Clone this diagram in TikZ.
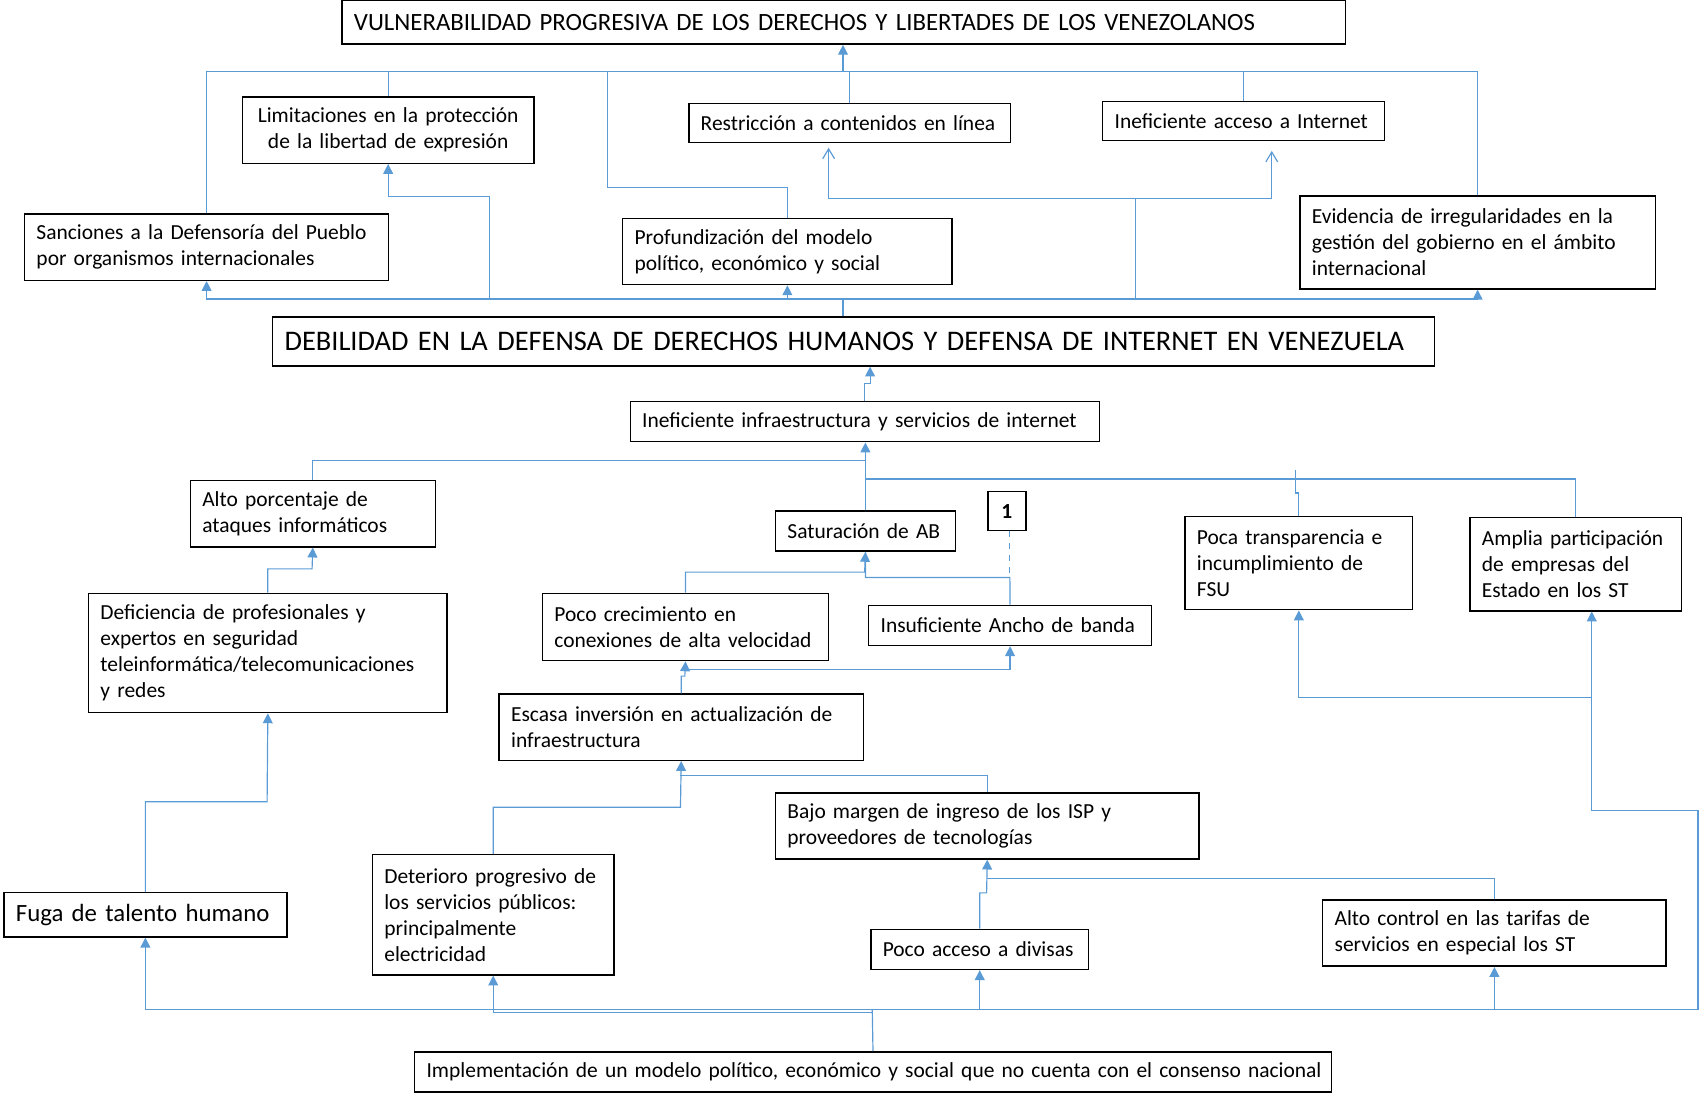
\documentclass[tikz,border=0pt]{standalone}
\usepackage{fontspec}
\setmainfont{Carlito}
\usetikzlibrary{arrows.meta,calc}
\definecolor{lineblue}{RGB}{91,155,213}

\begin{document}
\begin{tikzpicture}[
    x=0.55pt, y=-0.55pt,
    box/.style={draw, line width=0.75pt, anchor=north west, inner xsep=6.05pt, inner ysep=0pt,
      align=left, font=\fontsize{10.9}{13.2}\selectfont},
    bigtext/.style={font=\fontsize{12.6}{15.2}\selectfont},
    hugetext/.style={font=\fontsize{14.4}{17.3}\selectfont},
    link/.style={draw=lineblue, line width=0.6pt},
    arrowed/.style={link, -{Triangle[width=5pt,length=5pt]}},
    openarrowed/.style={link, -{Straight Barb[width=6pt,length=5pt]}}
    ]

    \useasboundingbox (0,0) rectangle (1568,1008);

    % effects
    \node (vuln) [box, bigtext, text width=497.2pt, minimum height=22pt] at (315,0)
      {\mbox{VULNERABILIDAD PROGRESIVA DE LOS DERECHOS Y LIBERTADES DE LOS VENEZOLANOS}};
    \node (limit) [box, align=center, text width=135.9pt, minimum height=33.55pt] at (223,89)
      {Limitaciones en la protección\\de la libertad de expresión};
    \node (restr) [box, text width=151.25pt, minimum height=19.8pt] at (635,95) {\mbox{Restricción a contenidos en línea}};
    \node (acceso) [box, text width=130.9pt, minimum height=19.8pt] at (1017,93) {\mbox{Ineficiente acceso a Internet}};
    \node (sanc) [box, text width=172.7pt, minimum height=33.55pt] at (22,197)
      {Sanciones a la Defensoría del Pueblo\\por organismos internacionales};
    \node (prof) [box, text width=155.1pt, minimum height=33.55pt] at (574,201)
      {Profundización del modelo\\político, económico y social};
    \node (evid) [box, text width=168.3pt, minimum height=47.3pt] at (1199,180)
      {Evidencia de irregularidades en la\\gestión del gobierno en el ámbito\\internacional};

    % central problem
    \node (debil) [box, hugetext, text width=577.5pt, minimum height=24.75pt] at (251,292)
      {\mbox{DEBILIDAD EN LA DEFENSA DE DERECHOS HUMANOS Y DEFENSA DE INTERNET EN VENEZUELA}};

    % causes
    \node (infra) [box, text width=226.05pt, minimum height=20.35pt] at (581,370)
      {\mbox{Ineficiente infraestructura y servicios de internet}};
    \node (ataq) [box, text width=112.2pt, minimum height=33.55pt] at (175,443)
      {Alto porcentaje de\\ataques informáticos};
    \node (satur) [box, text width=79.2pt, minimum height=20.35pt] at (715,471) {\mbox{Saturación de AB}};
    \node (uno) [box, align=center, inner xsep=0pt, minimum width=19.25pt, minimum height=19.8pt,
      font=\fontsize{10.9}{13.2}\selectfont\bfseries] at (911,453) {1};
    \node (transp) [box, text width=103.4pt, minimum height=47.3pt] at (1093,476)
      {Poca transparencia e\\incumplimiento de\\FSU};
    \node (ampl) [box, text width=95.15pt, minimum height=47.3pt] at (1356,477)
      {\mbox{Amplia participación}\\de empresas del\\Estado en los ST};
    \node (defic) [box, text width=169.95pt, minimum height=60.5pt] at (81,547)
      {Deficiencia de profesionales y\\expertos en seguridad\\teleinformática/telecomunicaciones\\y redes};
    \node (crec) [box, text width=133.1pt, minimum height=34.1pt] at (500,547)
      {Poco crecimiento en\\conexiones de alta velocidad};
    \node (ancho) [box, text width=131.45pt, minimum height=20.35pt] at (801,558) {\mbox{Insuficiente Ancho de banda}};
    \node (inver) [box, text width=172.7pt, minimum height=33.55pt] at (460,640)
      {Escasa inversión en actualización de\\infraestructura};
    \node (margen) [box, text width=202.95pt, minimum height=33.55pt] at (715,731)
      {Bajo margen de ingreso de los ISP y\\proveedores de tecnologías};
    \node (fuga) [box, bigtext, text width=131.45pt, minimum height=22.55pt] at (3,823)
      {\mbox{Fuga de talento humano}};
    \node (deter) [box, text width=110.55pt, minimum height=61.05pt] at (343,788)
      {\mbox{Deterioro progresivo de}\\los servicios públicos:\\principalmente\\electricidad};
    \node (divis) [box, text width=98.45pt, minimum height=20.35pt] at (803,857) {\mbox{Poco acceso a divisas}};
    \node (tarif) [box, text width=162.25pt, minimum height=33.55pt] at (1220,830)
      {Alto control en las tarifas de\\servicios en especial los ST};
    \node (impl) [box, text width=453.2pt, minimum height=20.35pt] at (382,970)
      {\mbox{Implementación de un modelo político, económico y social que no cuenta con el consenso nacional}};

    % upper effects into the top box
    \coordinate (topbus) at (778,66);
    \coordinate (profbend) at (561,173);
    \draw[link] (sanc.north) |- (topbus);
    \draw[link] (limit.north) |- (topbus);
    \draw[link] (prof.north) |- (profbend) |- (topbus);
    \draw[link] (restr.north) |- (topbus);
    \draw[link] (acceso.north) |- (topbus);
    \draw[link] (evid.north) |- (topbus);
    \draw[arrowed] (topbus) -- (topbus |- vuln.south);

    % central problem into the effects
    \coordinate (debbus) at (778,276);
    \coordinate (limbend) at (452,181);
    \coordinate (webbend) at (1048,183);
    \draw[link] (debbus |- debil.north) -- (debbus);
    \draw[arrowed] (debbus) -| (sanc.south);
    \draw[arrowed] (debbus) -| (limbend) -| (limit.south);
    \draw[arrowed] (debbus) -| (prof.south);
    \draw[arrowed] (debbus) -| (evid.south);
    \draw[openarrowed] (debbus) -| (webbend) -| ([xshift=-10.7pt,yshift=-2.2pt]restr.south);
    \draw[openarrowed] (webbend) -| ([xshift=14.3pt,yshift=-4.9pt]acceso.south);

    % infrastructure into the central problem
    \coordinate (infrajog) at (803,354);
    \draw[arrowed] (infra.north) |- (infrajog) -- (infrajog |- debil.south);

    % first level causes
    \coordinate (infrabus) at (798,425);
    \coordinate (statebus) at (798,442);
    \coordinate (transpjog) at (1195.6,455);
    \coordinate (transptop) at (1195.6,434);
    \draw[arrowed] (satur.north) -- (satur.north |- infra.south);
    \draw[link] (ataq.north) |- (infrabus);
    \draw[link] (ampl.north) |- (statebus);
    \draw[link] (transp.north) |- (transpjog) -- (transptop);

    % into saturation
    \coordinate (saturbus) at (798,528);
    \coordinate (anchobend) at (932,533);
    \draw[arrowed] (crec.north) |- (saturbus) -- (satur.south);
    \draw[link] (ancho.north) -- (anchobend) -| (satur.south);
    \draw[link, dashed] (uno.south -| anchobend) -- (anchobend);

    % investment
    \coordinate (inverjog) at (632,624);
    \coordinate (inverbus) at (632,617.5);
    \draw[arrowed] (inver.north) |- (inverjog) -- (crec.south);
    \draw[arrowed] (inverbus) -| (ancho.south);

    \coordinate (deterbend) at (628,745);
    \coordinate (margenbend) at (628,716);
    \draw[arrowed] (deter.north) |- (deterbend) -- (inver.south);
    \draw[link] (margen.north) |- (margenbend);

    \coordinate (divjog) at (910.5,824);
    \coordinate (tarifbend) at (910.5,811);
    \draw[arrowed] (divis.north) |- (divjog) -- (margen.south);
    \draw[link] (tarif.north) |- (tarifbend);

    % talent
    \coordinate (fugabend) at (246.5,740);
    \coordinate (deficbend) at (288,525);
    \draw[arrowed] (fuga.north) |- (fugabend) -- (defic.south);
    \draw[arrowed] (defic.north) |- (deficbend) -- (ataq.south);

    % root cause
    \coordinate (implbus) at (805,932);
    \coordinate (implbuslow) at (805,934.5);
    \coordinate (rightcorner) at (1567,748);
    \coordinate (amplfoot) at (1469,644);
    \draw[link] (impl.north) -- (implbus);
    \draw[arrowed] (implbus) -| (fuga.south);
    \draw[arrowed] (implbuslow) -| (deter.south);
    \draw[arrowed] (implbus) -| (divis.south);
    \draw[arrowed] (implbus) -| (tarif.south);
    \draw[link] (implbus) -| (rightcorner) -| (amplfoot);
    \draw[arrowed] (amplfoot) -- (amplfoot |- ampl.south);
    \draw[arrowed] (amplfoot) -| (transp.south);

\end{tikzpicture}
\end{document}
